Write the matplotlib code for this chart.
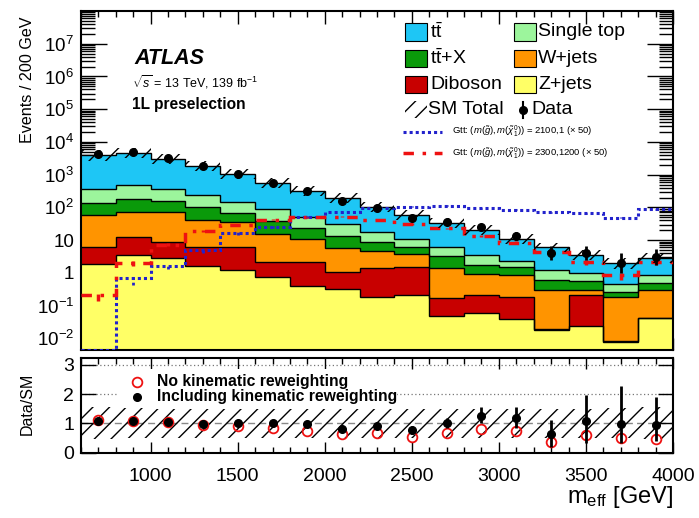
import numpy as np
import matplotlib
matplotlib.use("Agg")
import matplotlib.pyplot as plt
from matplotlib.patches import Rectangle
from matplotlib.lines import Line2D
from matplotlib.ticker import FixedLocator, LogLocator, NullFormatter, MultipleLocator

plt.rcParams['font.family'] = ['Liberation Sans', 'DejaVu Sans']
plt.rcParams['mathtext.fontset'] = 'custom'
plt.rcParams['mathtext.rm'] = 'Liberation Sans'
plt.rcParams['mathtext.it'] = 'Liberation Sans:italic'
plt.rcParams['mathtext.bf'] = 'Liberation Sans:bold'
plt.rcParams['hatch.linewidth'] = 1.0

# ---------------- data ----------------
bin_edges = [600, 800, 1000, 1200, 1400, 1600, 1800, 2000, 2200, 2400, 2600,
             2800, 3000, 3200, 3400, 3600, 3800, 4000]

zjets   = [1.83, 3.4, 2.9, 1.6, 1.23, 0.73, 0.40, 0.32, 0.187, 0.21, 0.049, 0.058, 0.038, 0.018, 0.024, 0.0079, 0.041]
diboson = [4.47, 8.9, 6.0, 4.4, 4.8, 1.47, 1.8, 0.78, 1.21, 1.34, 0.12, 0.15, 0.14, 0.001, 0.19, 0.0001, 0.001]
wjets   = [52.7, 61.7, 65.0, 34.0, 31.0, 12.8, 8.8, 4.5, 3.3, 2.15, 1.27, 0.70, 0.69, 0.28, 0.09, 0.17, 0.26]
ttx     = [81, 112, 81, 63, 29, 24, 13, 7.4, 4.2, 2.6, 1.76, 0.84, 0.68, 0.30, 0.26, 0.09, 0.18]
singletop = [220, 284, 213, 135, 84, 49, 26, 18, 9.1, 4.7, 3.1, 1.75, 0.80, 0.63, 0.44, 0.18, 0.39]
ttbar   = [3670, 4100, 2632, 1620, 885, 487, 275, 159, 87, 48, 27.7, 17.1, 8.65, 4.77, 2.5, 1.5, 2.03]

sm_unc = [0.55, 0.52, 0.5, 0.5, 0.5, 0.5, 0.5, 0.5, 0.5, 0.5, 0.5, 0.5, 0.5, 0.5, 0.5, 0.52, 0.55]

data = [4370, 4900, 3150, 1850, 1050, 575, 315, 160, 98, 47, 35, 25, 13, 4, 4, 2, 3]

sig_2100_1 = [0.0045, 0.68, 1.6, 4.9, 16, 25, 50, 70, 94, 105, 113, 94, 84, 71, 66, 49, 88]
sig_2100_1_err = [0.0, 0.25, 0.3, 0.8, 1.5, 2.0, 3.0, 3.5, 4.0, 4.0, 4.0, 4.0, 3.5, 3.0, 3.0, 2.5, 3.5]
sig_2300_1200 = [0.21, 1.95, 7.2, 19, 29, 42, 50, 52, 42, 31, 23, 13.7, 8.3, 4.4, 2.1, 0.87, 2.2]
sig_2300_1200_err = [0.07, 0.3, 0.8, 1.5, 1.8, 2.0, 2.2, 2.2, 2.0, 1.6, 1.3, 1.0, 0.8, 0.6, 0.4, 0.25, 0.4]

ratio_rw = [1.08, 1.07, 1.03, 0.98, 1.0, 1.0, 0.97, 0.82, 0.91, 0.77, 1.0, 1.25, 1.17, 0.625, 1.09, 0.98, 0.95]
ratio_rw_up = [0.02, 0.02, 0.02, 0.03, 0.04, 0.05, 0.06, 0.07, 0.09, 0.12, 0.17, 0.30, 0.40, 0.49, 0.88, 1.29, 0.96]
ratio_rw_dn = [0.02, 0.02, 0.02, 0.03, 0.04, 0.05, 0.06, 0.07, 0.09, 0.12, 0.17, 0.25, 0.33, 0.43, 0.77, 0.66, 0.57]
ratio_norw = [1.11, 1.07, 1.03, 0.93, 0.89, 0.83, 0.75, 0.64, 0.66, 0.52, 0.68, 0.80, 0.72, 0.35, 0.60, 0.51, 0.45]

# ---------------- figure ----------------
W, H = 699, 518
fig = plt.figure(figsize=(W / 100, H / 100), dpi=100)

def fx(x):
    return x / W

def fy(y):
    return 1 - y / H

L, R = 81, 673
ax = fig.add_axes([fx(L), fy(350), fx(R) - fx(L), fy(11) - fy(350)])
axr = fig.add_axes([fx(L), fy(452.5), fx(R) - fx(L), fy(357.5) - fy(452.5)])

edges = np.array(bin_edges, dtype=float)
centers = 0.5 * (edges[:-1] + edges[1:])

components = [
    (np.array(zjets), '#FFFF66'),
    (np.array(diboson), '#C80000'),
    (np.array(wjets), '#FF9400'),
    (np.array(ttx), '#0A9A0A'),
    (np.array(singletop), '#9CF59C'),
    (np.array(ttbar), '#1EC6F5'),
]

ax.set_yscale('log')
ax.set_xlim(600, 4000)
ax.set_ylim(4.4e-3, 1.0e8)

bottom = np.full(len(centers), 1e-6)
tops = []
for vals, col in components:
    top = bottom + vals
    ax.stairs(top, edges, baseline=bottom, fill=True, color=col, lw=0, zorder=2)
    tops.append(top)
    bottom = top
for top in tops:
    ax.stairs(top, edges, baseline=None, color='black', lw=1.0, zorder=3)

sm_total = tops[-1]
unc = np.array(sm_unc)

# signals
blue_ls = (0, (1, 1))
red_ls = (0, (3, 2.5, 1, 2.5))
s1 = np.array(sig_2100_1)
s2 = np.array(sig_2300_1200)
ax.stairs(s1, edges, baseline=None, color='#2222CC', lw=2.2, linestyle=blue_ls, zorder=4)
ax.stairs(s2, edges, baseline=None, color='#EE1111', lw=2.5, linestyle=red_ls, zorder=4)
e1 = np.array(sig_2100_1_err)
e2 = np.array(sig_2300_1200_err)
ax.vlines(centers, np.clip(s1 - e1, 1e-4, None), s1 + e1, color='#2222CC', lw=2.0,
          linestyle=blue_ls, zorder=4)
ax.vlines(centers, np.clip(s2 - e2, 1e-4, None), s2 + e2, color='#EE1111', lw=2.5,
          linestyle=(0, (2, 2)), zorder=4)

# SM total hatch band
ax.stairs(sm_total * (1 + unc * 0.8), edges, baseline=sm_total * (1 - unc * 0.6), fill=True,
          facecolor='none', edgecolor='black', hatch='//', lw=0, zorder=5)

# data
d = np.array(data, dtype=float)
err_up = np.sqrt(d + 0.25) + 0.5
err_dn = np.sqrt(d + 0.25) - 0.5
ax.errorbar(centers, d, yerr=[err_dn, err_up], fmt='o', color='black', ms=5.5,
            elinewidth=2, capsize=0, zorder=6)

# axes style
def style_axes(a, major_len_y, minor_len_y, major_len_x, minor_len_x):
    a.tick_params(which='both', direction='in', top=True, right=True, width=1.0)
    a.tick_params(axis='y', which='major', length=major_len_y)
    a.tick_params(axis='y', which='minor', length=minor_len_y)
    a.tick_params(axis='x', which='major', length=major_len_x)
    a.tick_params(axis='x', which='minor', length=minor_len_x)
    for s in a.spines.values():
        s.set_linewidth(1.5)

style_axes(ax, 19, 10, 9, 4.5)
ax.xaxis.set_major_locator(MultipleLocator(500))
ax.xaxis.set_minor_locator(MultipleLocator(100))
ax.tick_params(axis='x', labelbottom=False)

ymaj = [10.0 ** k for k in range(-2, 8)]
ax.yaxis.set_major_locator(FixedLocator(ymaj))

def lab(k):
    if k == 0:
        return '1'
    if k == 1:
        return '10'
    return r'$\mathregular{10^{%d}}$' % k
ax.set_yticklabels([lab(k) for k in range(-2, 8)])
ax.yaxis.set_minor_locator(LogLocator(base=10, subs=np.arange(2, 10), numticks=100))
ax.yaxis.set_minor_formatter(NullFormatter())
ax.tick_params(axis='y', labelsize=13.5, pad=5)

fig.text(fx(27), fy(80), 'Events / 200 GeV', rotation=90, ha='center', va='center', fontsize=11.6)

# ATLAS labels
fig.text(fx(134), fy(58), 'ATLAS', fontsize=15.5, fontweight='bold', fontstyle='italic', va='center')
fig.text(fx(132), fy(82), r'$\sqrt{s}$ = 13 TeV, 139 fb$^{-1}$', fontsize=9, va='center')
fig.text(fx(132), fy(105), '1L preselection', fontsize=11.2, fontweight='bold', va='center')

# legend (manual)
box_w, box_h = 22, 17
rows = [32, 58.5, 84.5]
leg1 = [(r'$\mathrm{t\bar{t}}$', '#1EC6F5'), (r'$\mathrm{t\bar{t}}$+X', '#0A9A0A'), ('Diboson', '#C80000')]
leg2 = [('Single top', '#9CF59C'), ('W+jets', '#FF9400'), ('Z+jets', '#FFFF66')]
FS_LEG = 14
for (txt, col), yy in zip(leg1, rows):
    fig.patches.append(Rectangle((fx(405), fy(yy + box_h / 2)), box_w / W, box_h / H,
                                 transform=fig.transFigure, facecolor=col, edgecolor='black', lw=0.8))
    fig.text(fx(430), fy(yy), txt, fontsize=FS_LEG, va='center')
for (txt, col), yy in zip(leg2, rows):
    fig.patches.append(Rectangle((fx(514), fy(yy + box_h / 2)), box_w / W, box_h / H,
                                 transform=fig.transFigure, facecolor=col, edgecolor='black', lw=0.8))
    fig.text(fx(538), fy(yy), txt, fontsize=FS_LEG, va='center')
# SM total
fig.patches.append(Rectangle((fx(405), fy(110 + box_h / 2)), box_w / W, box_h / H,
                             transform=fig.transFigure, facecolor='none', edgecolor='black',
                             hatch='//', lw=0))
fig.text(fx(428), fy(110), 'SM Total', fontsize=FS_LEG, va='center')
fig.lines.append(Line2D([fx(523), fx(523)], [fy(102), fy(118)], transform=fig.transFigure,
                        color='black', lw=1.5))
fig.lines.append(Line2D([fx(523)], [fy(110)], transform=fig.transFigure, marker='o',
                        color='black', ms=5.5))
fig.text(fx(531), fy(110), 'Data', fontsize=FS_LEG, va='center')
# signals
fig.lines.append(Line2D([fx(403), fx(442)], [fy(131.5), fy(131.5)], transform=fig.transFigure,
                        color='#2222CC', lw=2.2, linestyle=blue_ls))
fig.text(fx(452), fy(131.5), r'Gtt: $(m(\tilde{g}),m(\tilde{\chi}^{0}_{1}))$ = 2100,1 ($\times$ 50)',
         fontsize=6.8, va='center')
fig.lines.append(Line2D([fx(403), fx(442)], [fy(153), fy(153)], transform=fig.transFigure,
                        color='#EE1111', lw=2.5, linestyle=red_ls))
fig.text(fx(452), fy(153), r'Gtt: $(m(\tilde{g}),m(\tilde{\chi}^{0}_{1}))$ = 2300,1200 ($\times$ 50)',
         fontsize=6.8, va='center')

# ---------------- ratio panel ----------------
axr.set_xlim(600, 4000)
axr.set_ylim(0, 3.25)
axr.axhline(1, color='#888888', ls=(0, (5, 3)), lw=1.0, zorder=1)
axr.axhline(2, color='#777777', ls=(0, (1, 2)), lw=0.9, zorder=1)
axr.axhline(3, color='#777777', ls=(0, (1, 2)), lw=0.9, zorder=1)
axr.stairs(1 + unc, edges, baseline=1 - unc, fill=True, facecolor='none', edgecolor='black',
           hatch='//', lw=0, zorder=2)
axr.errorbar(centers, ratio_rw, yerr=[ratio_rw_dn, ratio_rw_up], fmt='o', color='black', ms=5.5,
             elinewidth=2, capsize=0, zorder=5)
axr.plot(centers, ratio_norw, 'o', mfc='none', mec='#EE1111', mew=1.3, ms=7, zorder=4, ls='none')

style_axes(axr, 11, 6, 8, 4)
axr.xaxis.set_major_locator(MultipleLocator(500))
axr.xaxis.set_minor_locator(MultipleLocator(100))
axr.yaxis.set_major_locator(FixedLocator([0, 1, 2, 3]))
axr.set_xticks([1000, 1500, 2000, 2500, 3000, 3500, 4000])
axr.tick_params(axis='x', labelsize=14, pad=11)
axr.tick_params(axis='y', labelsize=14, pad=5)

fig.text(fx(27), fy(404), 'Data/SM', rotation=90, ha='center', va='center', fontsize=11.5)

# ratio legend
fig.patches.append(Rectangle((fx(118), fy(403)), (397 - 118) / W, (403 - 369) / H,
                             transform=fig.transFigure, facecolor='white', edgecolor='none', zorder=3))
fig.lines.append(Line2D([fx(137)], [fy(381.5)], transform=fig.transFigure, marker='o', mfc='none',
                        mec='#EE1111', mew=1.3, ms=7, zorder=4))
fig.text(fx(157), fy(381.5), 'No kinematic reweighting', fontsize=11.3, fontweight='bold', va='center', zorder=4)
fig.lines.append(Line2D([fx(137)], [fy(396.5)], transform=fig.transFigure, marker='o',
                        color='black', ms=5.5, zorder=4))
fig.text(fx(157), fy(396.5), 'Including kinematic reweighting', fontsize=11.3, fontweight='bold',
         va='center', zorder=4)

fig.text(fx(673), fy(497), r'$\mathrm{m_{eff}}$ [GeV]', fontsize=17, ha='right', va='center')

fig.savefig('out.png', dpi=100)
